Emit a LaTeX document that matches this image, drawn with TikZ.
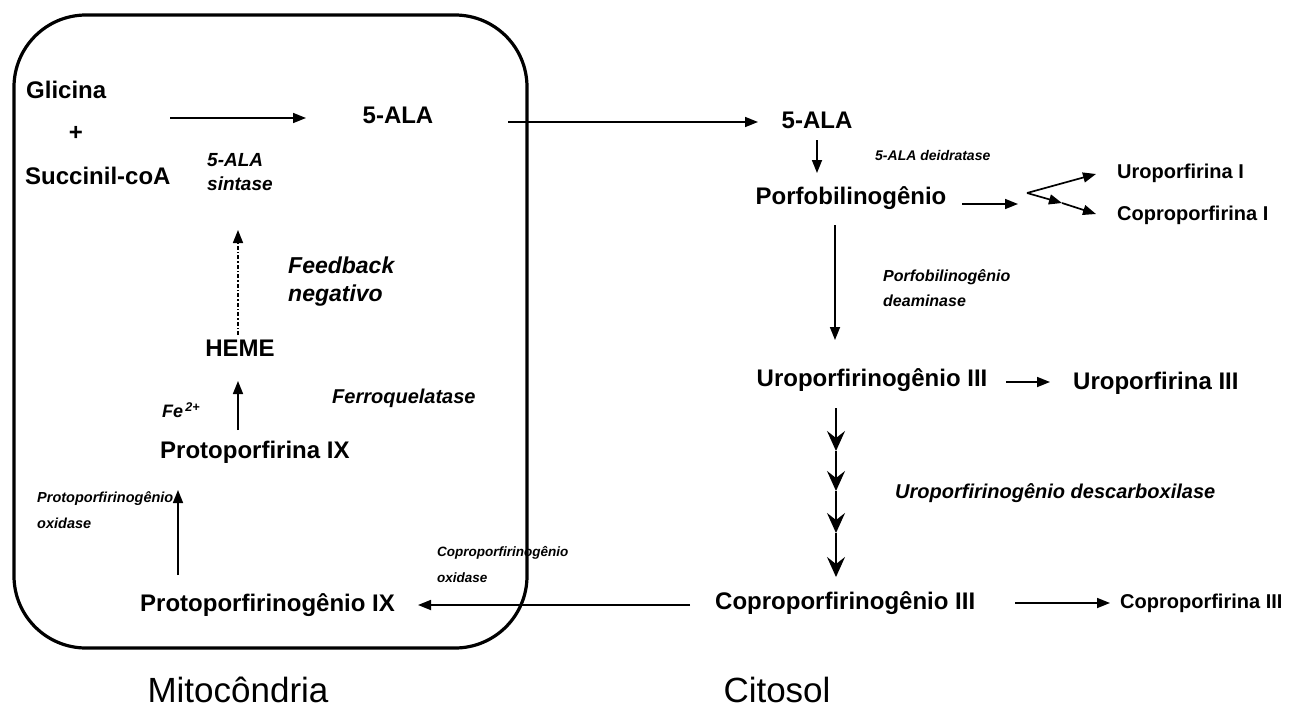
\documentclass[tikz,border=0pt]{standalone}
\usepackage{fontspec}
\setmainfont{Liberation Sans}
\usetikzlibrary{arrows.meta}
\begin{document}
\begin{tikzpicture}[x=1pt,y=-1pt,
  lbl/.style={font=\fontsize{24}{28}\selectfont\bfseries, inner sep=0pt},
  sml/.style={font=\fontsize{20}{24}\selectfont\bfseries, inner sep=0pt},
  enz/.style={font=\bfseries\itshape, inner sep=0pt, align=left},
  ttl/.style={font=\fontsize{35}{40}\selectfont, inner sep=0pt},
  arr/.style={line width=1.7pt, -{Triangle[length=13pt,width=10pt]}},
  chain/.style={line width=1.8pt, -{Stealth[length=20pt,width=18pt,inset=7pt]}},
  box/.style={line width=3.2pt, rounded corners=72pt},
]
\useasboundingbox (0,0) rectangle (1299,713);

% mitochondrion boundary
\draw[box] (14,15) rectangle (527,648);

% ---- mitochondrion ----
\node[lbl,anchor=west] (gli) at (26,90) {Glicina};
\node[lbl] (plus) at (76,133) {+};
\node[lbl,anchor=west] (suc) at (25,176) {Succinil-coA};
\node[lbl] (ala1) at (398,115) {5-ALA};
\coordinate (g0) at (170,118);
\coordinate (g1) at (306,118);
\draw[arr] (g0) -- (g1);
\node[enz,anchor=west,font=\fontsize{19}{24}\selectfont\bfseries\itshape] (sint) at (207,172) {5-ALA\\sintase};

\node[lbl] (heme) at (240,348) {HEME};
\coordinate (fbbot) at (238,335);
\coordinate (fbtop) at (238,230);
\draw[line width=1.6pt, dash pattern=on 4pt off 2pt on 1.5pt off 2pt, -{Triangle[length=13pt,width=10pt]}] (fbbot) -- (fbtop);
\node[enz,anchor=west,font=\fontsize{23}{28}\selectfont\bfseries\itshape] (fb) at (288,282) {Feedback\\negativo};

\node[lbl,anchor=west] (ppix) at (160,452) {Protoporfirina IX};
\coordinate (h0) at (238,430);
\coordinate (h1) at (238,381);
\draw[arr] (h0) -- (h1);
\node[enz,anchor=west,font=\fontsize{18}{22}\selectfont\bfseries\itshape] (fe) at (162,410) {Fe\textsuperscript{\,2+}};
\node[enz,anchor=west,font=\fontsize{20}{24}\selectfont\bfseries\itshape] (ferro) at (332,398) {Ferroquelatase};

\node[lbl,anchor=west] (ppgix) at (140,605) {Protoporfirinogênio IX};
\coordinate (p0) at (178,575);
\coordinate (p1) at (178,490);
\draw[arr] (p0) -- (p1);
\node[enz,anchor=west,font=\fontsize{14.5}{26}\selectfont\bfseries\itshape] (ppox) at (37,510) {Protoporfirinogênio\\oxidase};

% ---- cytosol ----
\node[lbl] (ala2) at (817,120) {5-ALA};
\coordinate (t0) at (508,122);
\coordinate (t1) at (758,122);
\draw[arr] (t0) -- (t1);

\node[lbl] (pbg) at (851,198) {Porfobilinogênio};
\coordinate (a2s) at (817,140);
\coordinate (a2e) at (817,173);
\draw[arr] (a2s) -- (a2e);
\node[enz,anchor=west,font=\fontsize{14}{17}\selectfont\bfseries\itshape] (deid) at (875,155) {5-ALA deidratase};

\coordinate (b0) at (962,204);
\coordinate (b1) at (1018,204);
\draw[arr] (b0) -- (b1);
\coordinate (v) at (1027,193);
\node[sml,anchor=west] (uroI) at (1117,173) {Uroporfirina I};
\node[sml,anchor=west] (coproI) at (1117,215) {Coproporfirina I};
\coordinate (vu) at (1096,174);
\coordinate (vm) at (1062,203);
\coordinate (vc) at (1096,214);
\draw[arr] (v) -- (vu);
\draw[arr] (v) -- (vm);
\draw[arr] (vm) -- (vc);

\node[lbl] (uro3) at (872,380) {Uroporfirinogênio III};
\coordinate (d0) at (835,225);
\coordinate (d1) at (835,340);
\draw[arr] (d0) -- (d1);
\node[enz,anchor=west,font=\fontsize{16}{25}\selectfont\bfseries\itshape] (deam) at (883,288) {Porfobilinogênio\\deaminase};

\coordinate (u0) at (1006,382);
\coordinate (u1) at (1050,382);
\draw[arr] (u0) -- (u1);
\node[lbl,anchor=west] (uroIII) at (1073,383) {Uroporfirina III};

\coordinate (c0) at (836,408);
\coordinate (c1) at (836,451);
\coordinate (c2) at (836,491);
\coordinate (c3) at (836,533);
\coordinate (c4) at (836,577);
\draw[chain] (c0) -- (c1);
\draw[chain] (c1) -- (c2);
\draw[chain] (c2) -- (c3);
\draw[chain] (c3) -- (c4);
\node[enz,anchor=west,font=\fontsize{20}{24}\selectfont\bfseries\itshape] (desc) at (895,493) {Uroporfirinogênio descarboxilase};

\node[lbl,anchor=west] (copro3) at (715,603) {Coproporfirinogênio III};
\coordinate (k0) at (1015,603);
\coordinate (k1) at (1110,603);
\draw[arr] (k0) -- (k1);
\node[sml,anchor=west] (coproIII) at (1120,603) {Coproporfirina III};

\coordinate (m0) at (690,605);
\coordinate (m1) at (418,605);
\draw[arr] (m0) -- (m1);
\node[enz,anchor=west,font=\fontsize{13.5}{26}\selectfont\bfseries\itshape] (cpox) at (437,565) {Coproporfirinogênio\\oxidase};

\node[ttl] (mito) at (238,690) {Mitocôndria};
\node[ttl] (cito) at (777,690) {Citosol};
\end{tikzpicture}
\end{document}
